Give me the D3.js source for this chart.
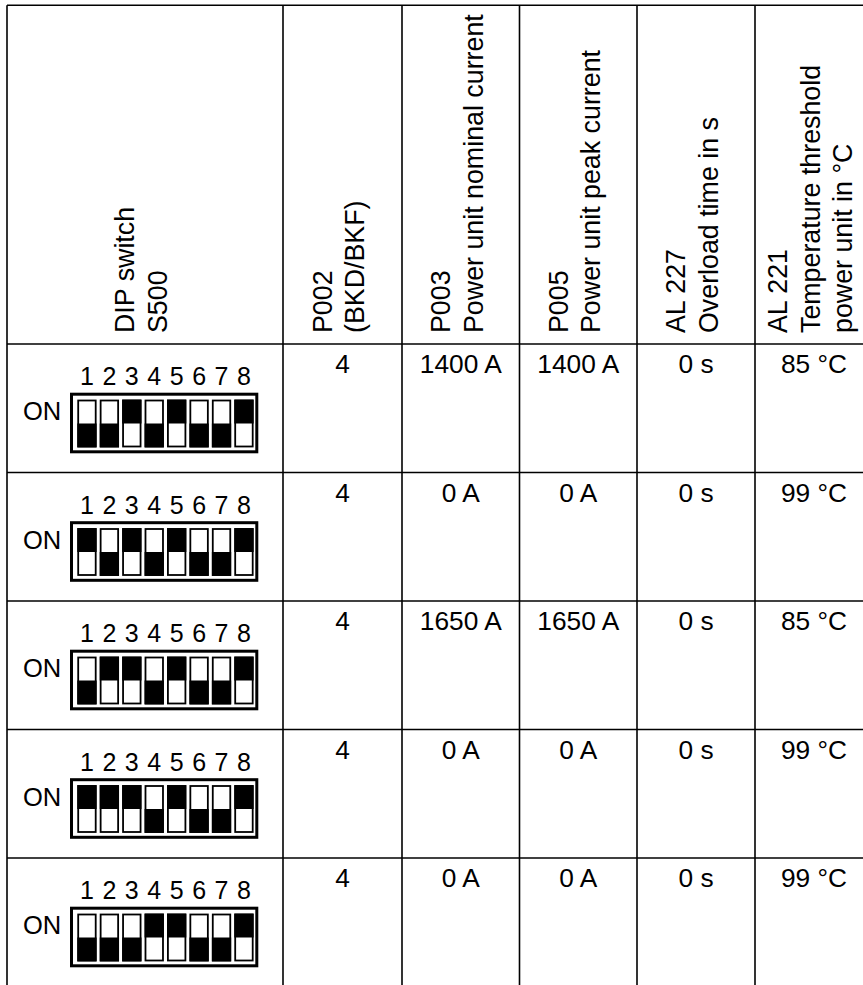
<!DOCTYPE html>
<html>
<head>
<meta charset="utf-8">
<script src="https://cdn.jsdelivr.net/npm/d3@7"></script>
<style>
  html, body { margin: 0; padding: 0; background: #fff; }
  svg { display: block; }
  text { font-family: "Liberation Sans", Arial, sans-serif; fill: #000; }
</style>
</head>
<body>
<svg id="chart" width="863" height="985"></svg>
<script>
// ---------- data ----------
const headers = [
  ["DIP switch", "S500"],
  ["P002", "(BKD/BKF)"],
  ["P003", "Power unit nominal current"],
  ["P005", "Power unit peak current"],
  ["AL 227", "Overload time in s"],
  ["AL 221", "Temperature threshold", "power unit in °C"]
];
const switchLabels = ["1", "2", "3", "4", "5", "6", "7", "8"];
// 1 = slider in upper (ON) position, 0 = lower
const switchStates = [
  [0, 0, 1, 0, 1, 0, 0, 1],
  [1, 0, 1, 0, 1, 0, 0, 1],
  [0, 1, 1, 0, 1, 0, 0, 1],
  [1, 1, 1, 0, 1, 0, 0, 1],
  [0, 0, 0, 1, 1, 0, 0, 1]
];
const p002 = ["4", "4", "4", "4", "4"];
const p003 = ["1400 A", "0 A", "1650 A", "0 A", "0 A"];
const p005 = ["1400 A", "0 A", "1650 A", "0 A", "0 A"];
const al227 = ["0 s", "0 s", "0 s", "0 s", "0 s"];
const al221 = ["85 °C", "99 °C", "85 °C", "99 °C", "99 °C"];

// ---------- layout ----------
const colEdges = [7, 283, 402, 519.5, 637, 755, 873];
const tableTop = 5.3, headerBottom = 344, rowH = 128.5;
const fsHead = 26.8, fsBody = 26.3, lineGap = 32.5, cap = 19;

const svg = d3.select("#chart");
const rows = d3.range(switchStates.length);
const y = d3.scaleBand().domain(rows).range([headerBottom, headerBottom + rowH * rows.length]);
const colCenter = i => (colEdges[i] + colEdges[i + 1]) / 2;

// grid lines
const g = svg.append("g").attr("stroke", "#000").attr("stroke-width", 1.6);
g.append("line").attr("x1", colEdges[0]).attr("x2", 900).attr("y1", tableTop).attr("y2", tableTop);
g.append("line").attr("x1", colEdges[0]).attr("x2", 900).attr("y1", headerBottom).attr("y2", headerBottom);
rows.slice(1).forEach(r => {
  g.append("line").attr("x1", colEdges[0]).attr("x2", 900).attr("y1", y(r)).attr("y2", y(r));
});
colEdges.forEach(x => {
  g.append("line").attr("x1", x).attr("x2", x).attr("y1", tableTop).attr("y2", 990);
});

// rotated headers
headers.forEach((lines, i) => {
  const n = lines.length;
  const b1 = colCenter(i) - ((n - 1) * lineGap - cap) / 2 - 4;
  lines.forEach((t, k) => {
    const bx = b1 + k * lineGap, by = 333;
    svg.append("text")
      .attr("transform", `translate(${bx},${by}) rotate(-90)`)
      .attr("font-size", fsHead)
      .text(t);
  });
});

// value columns
const valueCols = [p002, p003, p005, al227, al221];
valueCols.forEach((vals, ci) => {
  svg.append("g").selectAll("text").data(vals).join("text")
    .attr("x", colCenter(ci + 1))
    .attr("y", (d, r) => y(r) + 29)
    .attr("text-anchor", "middle")
    .attr("font-size", fsBody)
    .text(d => d);
});

// DIP switches
const sx = d3.scaleLinear().domain([0, 7]).range([77.3, 234.3]);
const sw = 19.3;
rows.forEach(r => {
  const top = y(r);
  const grp = svg.append("g");
  // digits
  grp.selectAll("text.num").data(switchLabels).join("text")
    .attr("class", "num")
    .attr("x", (d, i) => sx(i) + sw / 2)
    .attr("y", top + 41)
    .attr("text-anchor", "middle")
    .attr("font-size", 25)
    .text(d => d);
  // ON label
  grp.append("text").attr("x", 23).attr("y", top + 76).attr("font-size", 25.5).text("ON");
  // outer box
  grp.append("rect")
    .attr("x", 71.5).attr("y", top + 50.2)
    .attr("width", 185.3).attr("height", 57.6)
    .attr("fill", "#fff").attr("stroke", "#000").attr("stroke-width", 3);
  const sTop = top + 56.5, sH = 46, half = sH / 2;
  // switch bodies
  grp.selectAll("rect.sw").data(switchStates[r]).join("rect")
    .attr("class", "sw")
    .attr("x", (d, i) => sx(i) + 0.9)
    .attr("y", sTop)
    .attr("width", sw - 1.8).attr("height", sH)
    .attr("fill", "#fff").attr("stroke", "#000").attr("stroke-width", 1.8);
  // slider (black half)
  grp.selectAll("rect.sl").data(switchStates[r]).join("rect")
    .attr("class", "sl")
    .attr("x", (d, i) => sx(i))
    .attr("y", d => d ? sTop - 0.9 : sTop + half)
    .attr("width", sw).attr("height", half + 0.9)
    .attr("fill", "#000");
});
</script>
</body>
</html>
